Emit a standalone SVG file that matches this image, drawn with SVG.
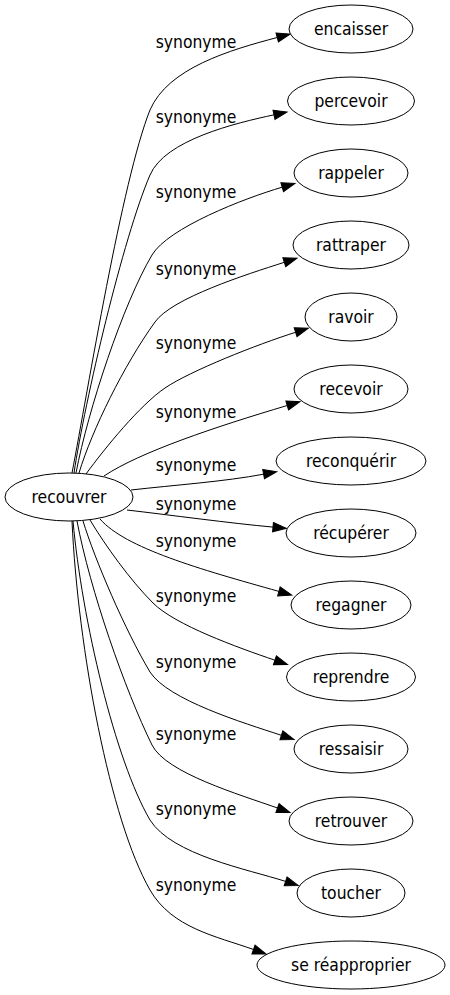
<svg xmlns="http://www.w3.org/2000/svg" width="450" height="995" viewBox="0 0 450 995">
<style>
text{font-family:"DejaVu Sans Condensed","DejaVu Sans",sans-serif;font-stretch:condensed;font-size:17.33px;fill:#000;text-anchor:middle}
ellipse{fill:none;stroke:#000;stroke-width:1}
.e path{fill:none;stroke:#000;stroke-width:1;marker-end:url(#ah)}
</style>
<defs>
<marker id="ah" markerUnits="userSpaceOnUse" markerWidth="16" markerHeight="12" refX="0" refY="0" viewBox="0 -6 16 12" orient="auto" overflow="visible">
<path d="M0,-4.67L13.3,0L0,4.67z" fill="#000" stroke="#000" stroke-width="1"/>
</marker>
</defs>
<rect width="450" height="995" fill="#fff"/>
<g class="e" id="edges">
<path d="M72,473C88,390 122,180 150,110C168,68 230,50 277.2,37.5"/>
<path d="M74,473C85,400 123,238 150,175C165,140 235,123.2 274,114.8"/>
<path d="M76,473C88,410 123,304 152,255C168,228 243.8,198.4 282.2,187.2"/>
<path d="M79,473C92,430 124,365 155,322C172,298 246.2,274.5 284.3,262.3"/>
<path d="M86,474C105,448 140,405 165,388C190,371 257.4,344.3 295.6,332.3"/>
<path d="M104,476C140,452 215,427 287.2,405.5"/>
<path d="M131,490C175,485 224.3,481.6 263.6,474.2"/>
<path d="M127,510C170,515 230.2,523.2 273,527.1"/>
<path d="M100,519C125,548 200,569.3 278.9,591.4"/>
<path d="M90,520C105,545 130,580 153,603C175,625 237.1,647.3 274.9,660.2"/>
<path d="M83,521C95,560 125,630 150,672C168,700 243.4,722.8 281.4,735.3"/>
<path d="M77,521C90,590 125,690 152,745C166,773 239.8,794.6 277.5,808"/>
<path d="M73,521C82,620 115,760 150,820C172,855 247.5,869.2 285.6,881.4"/>
<path d="M72,521C78,650 110,820 150,890C172,928 215.8,936.1 253.5,949.5"/>
</g>
<g id="edge-labels">
<text x="196" y="48">synonyme</text>
<text x="196" y="123">synonyme</text>
<text x="196" y="198">synonyme</text>
<text x="196" y="275">synonyme</text>
<text x="196" y="349">synonyme</text>
<text x="196" y="418">synonyme</text>
<text x="196" y="471">synonyme</text>
<text x="196" y="510">synonyme</text>
<text x="196" y="547">synonyme</text>
<text x="196" y="602">synonyme</text>
<text x="196" y="668">synonyme</text>
<text x="196" y="740">synonyme</text>
<text x="196" y="815">synonyme</text>
<text x="196" y="891">synonyme</text>
</g>
<g id="n-recouvrer"><ellipse cx="69" cy="497" rx="64" ry="24"/><text x="69" y="502.5">recouvrer</text></g>
<g id="n-encaisser"><ellipse cx="351" cy="29" rx="62" ry="24"/><text x="351" y="34.5">encaisser</text></g>
<g id="n-percevoir"><ellipse cx="351" cy="101" rx="63.5" ry="24"/><text x="351" y="106.5">percevoir</text></g>
<g id="n-rappeler"><ellipse cx="351" cy="173" rx="57" ry="24"/><text x="351" y="178.5">rappeler</text></g>
<g id="n-rattraper"><ellipse cx="351" cy="245" rx="58" ry="24"/><text x="351" y="250.5">rattraper</text></g>
<g id="n-ravoir"><ellipse cx="351" cy="317" rx="46" ry="24"/><text x="351" y="322.5">ravoir</text></g>
<g id="n-recevoir"><ellipse cx="351" cy="389" rx="57" ry="24"/><text x="351" y="394.5">recevoir</text></g>
<g id="n-reconquerir"><ellipse cx="351" cy="461" rx="75" ry="24"/><text x="351" y="466.5">reconquérir</text></g>
<g id="n-recuperer"><ellipse cx="351" cy="533" rx="65" ry="24"/><text x="351" y="538.5">récupérer</text></g>
<g id="n-regagner"><ellipse cx="351" cy="605" rx="60" ry="24"/><text x="351" y="610.5">regagner</text></g>
<g id="n-reprendre"><ellipse cx="351" cy="677" rx="64.5" ry="24"/><text x="351" y="682.5">reprendre</text></g>
<g id="n-ressaisir"><ellipse cx="351" cy="749" rx="57" ry="24"/><text x="351" y="754.5">ressaisir</text></g>
<g id="n-retrouver"><ellipse cx="351" cy="821" rx="62" ry="24"/><text x="351" y="826.5">retrouver</text></g>
<g id="n-toucher"><ellipse cx="351" cy="893" rx="54" ry="24"/><text x="351" y="898.5">toucher</text></g>
<g id="n-se-reapproprier"><ellipse cx="351" cy="965" rx="94" ry="24"/><text x="351" y="970.5">se réapproprier</text></g>
</svg>
